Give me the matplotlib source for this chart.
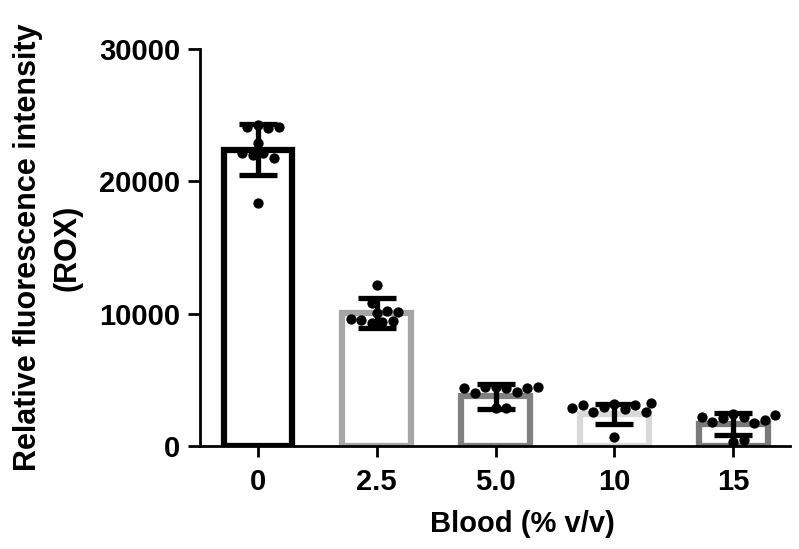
import numpy as np
import matplotlib.pyplot as plt

plt.rcParams['font.family'] = ['Liberation Sans', 'DejaVu Sans']
plt.rcParams['font.weight'] = 'bold'

categories = ['0', '2.5', '5.0', '10', '15']
means = [22400, 10050, 3750, 2450, 1650]
sds = [1900, 1150, 950, 750, 850]
edge_colors = ['#000000', '#a6a6a6', '#808080', '#d9d9d9', '#7a7a7a']

points = [
    [24260, 24030, 24110, 24110, 22900, 22150, 22000, 21770, 22150, 18370],
    [12170, 10050, 10200, 9370, 9300, 9450, 9520, 10800, 10130, 9600],
    [4480, 4410, 4460, 4080, 4000, 4380, 4380, 4460, 2870, 2870],
    [3170, 2800, 2950, 3100, 2570, 2570, 3100, 3250, 680, 2900],
    [2420, 2190, 2120, 1740, 1810, 1970, 2190, 2340, 300, 450],
]


def swarm_offsets(vals, px_per_x=118.75, px_per_y=397 / 30000, diam=10.5):
    # simple beeswarm: put each dot as close to centre as it can go
    placed = []
    offs = []
    for v in vals:
        yp = v * px_per_y
        k = 0
        while True:
            cands = [0.0] if k == 0 else [k * diam / 2, -k * diam / 2]
            ok = None
            for c in cands:
                if all((c - px) ** 2 + (yp - py) ** 2 >= diam ** 2 * 0.9
                       for px, py in placed):
                    ok = c
                    break
            if ok is not None:
                break
            k += 1
        placed.append((ok, yp))
        offs.append(ok / px_per_x)
    return np.array(offs)


fig = plt.figure(figsize=(7.99, 5.49), dpi=100)
ax = fig.add_axes([0.250, 0.1876, 0.739, 0.7231])

x = np.arange(len(categories))
ax.bar(x, means, width=0.58, color='white', edgecolor=edge_colors,
       linewidth=4.5, zorder=2)

for i, pts in enumerate(points):
    ax.scatter(i + swarm_offsets(pts), pts, s=55, color='black', zorder=4,
               linewidths=0)

ax.errorbar(x, means, yerr=sds, fmt='none', ecolor='black', elinewidth=3.8,
            capsize=14, capthick=3.8, zorder=5)

ax.set_xlim(-0.49, 4.48)
ax.set_ylim(0, 30000)
ax.set_yticks([0, 10000, 20000, 30000])
ax.set_xticks(x)
ax.set_xticklabels(categories)
ax.tick_params(axis='both', labelsize=21, width=2, length=9, direction='out',
               pad=5)
ax.tick_params(axis='x', length=8, pad=8)
for s in ['top', 'right']:
    ax.spines[s].set_visible(False)
for s in ['left', 'bottom']:
    ax.spines[s].set_linewidth(2)

ax.set_xlabel('Blood (% v/v)', fontsize=21, fontweight='bold', labelpad=10)
ax.xaxis.label.set_x(0.546)
ax.set_ylabel('Relative fluorescence intensity\n(ROX)', fontsize=22,
              fontweight='bold', labelpad=12, linespacing=1.4)

fig.savefig('out.png', dpi=100)
